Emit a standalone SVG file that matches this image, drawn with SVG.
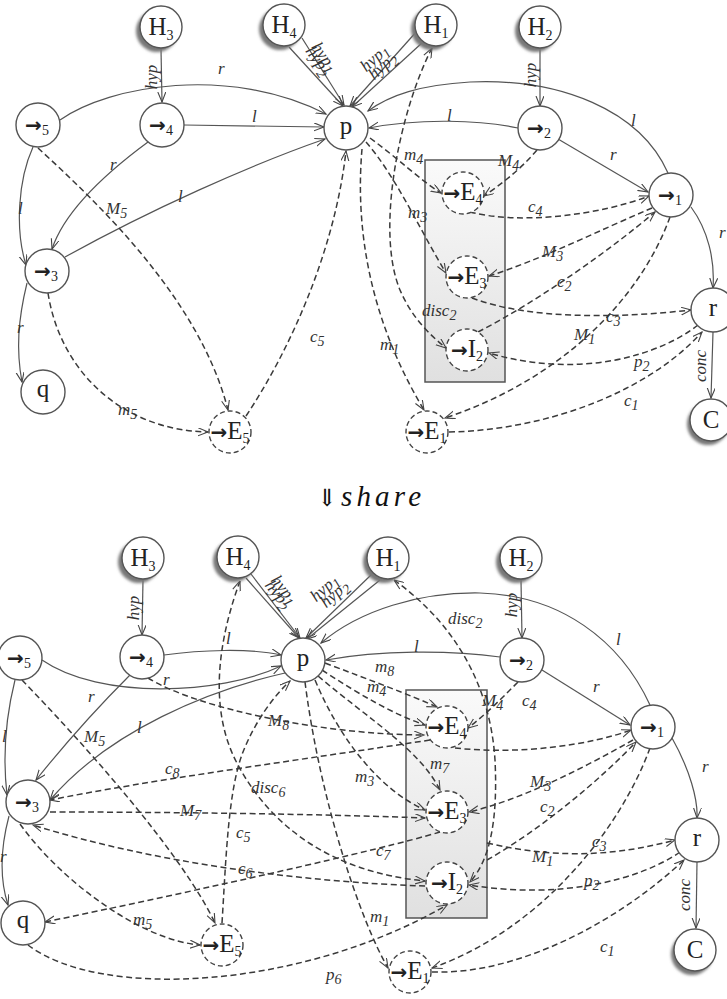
<svg xmlns="http://www.w3.org/2000/svg" width="727" height="999" viewBox="0 0 727 999">
  <style>
    .n { fill: #fff; stroke: #555; stroke-width: 1.4; }
    .d { fill: #fff; stroke: #444; stroke-width: 1.4; stroke-dasharray: 5 3; }
    .e { fill: none; stroke: #555; stroke-width: 1.2; marker-end: url(#a); }
    .de { fill: none; stroke: #3a3a3a; stroke-width: 1.5; stroke-dasharray: 6 3.5; marker-end: url(#a); }
    .both { marker-start: url(#as); }
    .sh { fill: #777; filter: url(#blur); }
    .lb { font-family: "Liberation Serif", "DejaVu Serif", serif; font-style: italic; font-size: 17px; fill: #333; }
    .nt { font-family: "Liberation Serif", "DejaVu Serif", serif; font-size: 25px; fill: #222; }
    .ar { font-family: "DejaVu Sans", sans-serif; font-weight: bold; font-size: 20px; fill: #222; }
    .sub { font-size: 14px; font-family: "Liberation Serif", "DejaVu Serif", serif; font-weight: normal; }
    .box { fill: url(#g); stroke: #555; stroke-width: 1.5; }
  </style>
  <defs>
    <marker id="a" markerUnits="userSpaceOnUse" markerWidth="12" markerHeight="10" refX="10" refY="4" orient="auto">
      <path d="M0,0 L10,4 L0,8" fill="none" stroke="#444" stroke-width="1.1"/>
    </marker>
    <marker id="as" markerUnits="userSpaceOnUse" markerWidth="12" markerHeight="10" refX="0" refY="4" orient="auto">
      <path d="M10,0 L0,4 L10,8" fill="none" stroke="#444" stroke-width="1.1"/>
    </marker>
    <filter id="blur" x="-30%" y="-30%" width="160%" height="160%">
      <feGaussianBlur stdDeviation="1.6"/>
    </filter>
    <linearGradient id="g" x1="0" y1="0" x2="0" y2="1">
      <stop offset="0" stop-color="#fafafa"/>
      <stop offset="1" stop-color="#e0e0e0"/>
    </linearGradient>
  </defs>

  <!-- ===== upper graph ===== -->
  <rect class="box" x="425" y="160" width="80" height="222"/>

  <g id="top-edges">
    <!-- solid -->
    <path class="e" d="M161,49 L162,102"/>
    <path class="e" d="M302,38 L344,105"/>
    <path class="e" d="M289,47 L343,106"/>
    <path class="e" d="M417,31 L350,106"/>
    <path class="e" d="M423,42 L352,107"/>
    <path class="e" d="M540,49 L540,106"/>
    <path class="e" d="M60,120 C110,85 230,65 326,114"/>
    <path class="e" d="M184,125 L324,127"/>
    <path class="e" d="M148,142 C110,170 65,210 52,249"/>
    <path class="e" d="M65,257 C150,210 250,165 325,139"/>
    <path class="e" d="M33,147 C18,180 15,230 26,265"/>
    <path class="e" d="M27,283 C18,320 16,350 22,382"/>
    <path class="e" d="M518,128 C480,120 420,118 369,128"/>
    <path class="e" d="M668,173 C640,110 560,78 470,82 C420,85 390,95 368,111"/>
    <path class="e" d="M691,207 C708,230 715,260 713,288"/>
    <path class="e" d="M558,139 L648,192"/>
    <path class="e" d="M713,332 L711,398"/>
    <!-- dashed -->
    <path class="de" d="M38,148 C100,205 200,300 228,410"/>
    <path class="de" d="M48,293 C60,370 120,430 208,432"/>
    <path class="de" d="M246,416 C290,350 335,250 346,151"/>
    <path class="de" d="M362,149 C355,230 370,320 424,410"/>
    <path class="de" d="M370,138 C400,160 420,180 441,193"/>
    <path class="de" d="M366,142 C395,175 420,230 446,273"/>
    <path class="de both" d="M432,48 C400,110 375,230 400,290 C412,318 430,335 446,348"/>
    <path class="de" d="M537,150 C520,170 500,185 484,196"/>
    <path class="de" d="M470,212 C520,225 600,215 649,196"/>
    <path class="de" d="M652,208 C600,230 540,260 489,276"/>
    <path class="de" d="M478,332 C540,300 610,250 655,212"/>
    <path class="de" d="M472,298 C530,320 620,318 691,310"/>
    <path class="de" d="M698,325 C660,355 580,380 489,353"/>
    <path class="de" d="M670,217 C640,300 560,380 445,418"/>
    <path class="de" d="M449,432 C550,430 650,390 702,332"/>
  </g>

  <g id="top-labels">
    <text class="lb" transform="translate(157,77) rotate(-90)" text-anchor="middle">hyp</text>
    <text class="lb" transform="translate(536,75) rotate(-90)" text-anchor="middle">hyp</text>
    <text class="lb" transform="translate(320,60) rotate(55)" text-anchor="middle">hyp<tspan class="sub" dy="4">1</tspan></text>
    <text class="lb" transform="translate(314,64) rotate(55)" text-anchor="middle">hyp<tspan class="sub" dy="4">2</tspan></text>
    <text class="lb" transform="translate(378,62) rotate(-42)" text-anchor="middle">hyp<tspan class="sub" dy="4">1</tspan></text>
    <text class="lb" transform="translate(386,70) rotate(-42)" text-anchor="middle">hyp<tspan class="sub" dy="4">2</tspan></text>
    <text class="lb" x="218" y="74">r</text>
    <text class="lb" x="252" y="122">l</text>
    <text class="lb" x="110" y="170">r</text>
    <text class="lb" x="178" y="202">l</text>
    <text class="lb" x="18" y="214">l</text>
    <text class="lb" x="17" y="333">r</text>
    <text class="lb" x="447" y="121">l</text>
    <text class="lb" x="631" y="126">l</text>
    <text class="lb" x="610" y="160">r</text>
    <text class="lb" x="719" y="238">r</text>
    <text class="lb" transform="translate(706,366) rotate(-90)" text-anchor="middle">conc</text>
    <text class="lb" x="106" y="214">M<tspan class="sub" dy="4">5</tspan></text>
    <text class="lb" x="118" y="415">m<tspan class="sub" dy="4">5</tspan></text>
    <text class="lb" x="310" y="342">c<tspan class="sub" dy="4">5</tspan></text>
    <text class="lb" x="380" y="350">m<tspan class="sub" dy="4">1</tspan></text>
    <text class="lb" x="404" y="160">m<tspan class="sub" dy="4">4</tspan></text>
    <text class="lb" x="408" y="218">m<tspan class="sub" dy="4">3</tspan></text>
    <text class="lb" x="422" y="316">disc<tspan class="sub" dy="4">2</tspan></text>
    <text class="lb" x="498" y="166">M<tspan class="sub" dy="4">4</tspan></text>
    <text class="lb" x="528" y="212">c<tspan class="sub" dy="4">4</tspan></text>
    <text class="lb" x="542" y="257">M<tspan class="sub" dy="4">3</tspan></text>
    <text class="lb" x="557" y="287">c<tspan class="sub" dy="4">2</tspan></text>
    <text class="lb" x="606" y="322">c<tspan class="sub" dy="4">3</tspan></text>
    <text class="lb" x="574" y="340">M<tspan class="sub" dy="4">1</tspan></text>
    <text class="lb" x="634" y="367">p<tspan class="sub" dy="4">2</tspan></text>
    <text class="lb" x="624" y="406">c<tspan class="sub" dy="4">1</tspan></text>
  </g>

  <g id="t-H3"><circle class="sh" cx="157" cy="31" r="21"/><circle class="n" cx="161" cy="27" r="21"/><text class="nt" x="161" y="35" text-anchor="middle">H<tspan class="sub" dy="5">3</tspan></text></g>
  <g id="t-H4"><circle class="sh" cx="280" cy="29" r="21"/><circle class="n" cx="284" cy="25" r="21"/><text class="nt" x="284" y="33" text-anchor="middle">H<tspan class="sub" dy="5">4</tspan></text></g>
  <g id="t-H1"><circle class="sh" cx="432" cy="29" r="21"/><circle class="n" cx="436" cy="25" r="21"/><text class="nt" x="436" y="33" text-anchor="middle">H<tspan class="sub" dy="5">1</tspan></text></g>
  <g id="t-H2"><circle class="sh" cx="536" cy="31" r="21"/><circle class="n" cx="540" cy="27" r="21"/><text class="nt" x="540" y="35" text-anchor="middle">H<tspan class="sub" dy="5">2</tspan></text></g>
  <g id="t-s5"><circle class="n" cx="38" cy="125" r="22"/><text class="ar" x="37" y="132" text-anchor="middle">→<tspan class="sub" dy="3">5</tspan></text></g>
  <g id="t-s4"><circle class="n" cx="162" cy="125" r="22"/><text class="ar" x="161" y="132" text-anchor="middle">→<tspan class="sub" dy="3">4</tspan></text></g>
  <g id="t-p"><circle class="n" cx="346" cy="128" r="22"/><text class="nt" x="346" y="134" text-anchor="middle">p</text></g>
  <g id="t-s2"><circle class="n" cx="540" cy="128" r="22"/><text class="ar" x="539" y="135" text-anchor="middle">→<tspan class="sub" dy="3">2</tspan></text></g>
  <g id="t-s1"><circle class="n" cx="671" cy="195" r="22"/><text class="ar" x="670" y="202" text-anchor="middle">→<tspan class="sub" dy="3">1</tspan></text></g>
  <g id="t-s3"><circle class="n" cx="47" cy="271" r="22"/><text class="ar" x="46" y="278" text-anchor="middle">→<tspan class="sub" dy="3">3</tspan></text></g>
  <g id="t-q"><circle class="n" cx="43" cy="392" r="22"/><text class="nt" x="43" y="397" text-anchor="middle">q</text></g>
  <g id="t-E5"><circle class="d" cx="230" cy="432" r="21"/><text class="nt" x="230" y="439" text-anchor="middle" font-size="20"><tspan class="ar" font-size="16">→</tspan>E<tspan class="sub" dy="4">5</tspan></text></g>
  <g id="t-E1"><circle class="d" cx="427" cy="432" r="21"/><text class="nt" x="427" y="439" text-anchor="middle" font-size="20"><tspan class="ar" font-size="16">→</tspan>E<tspan class="sub" dy="4">1</tspan></text></g>
  <g id="t-E4"><circle class="d" cx="463" cy="193" r="21"/><text class="nt" x="463" y="200" text-anchor="middle" font-size="20"><tspan class="ar" font-size="16">→</tspan>E<tspan class="sub" dy="4">4</tspan></text></g>
  <g id="t-E3"><circle class="d" cx="467" cy="277" r="21"/><text class="nt" x="467" y="284" text-anchor="middle" font-size="20"><tspan class="ar" font-size="16">→</tspan>E<tspan class="sub" dy="4">3</tspan></text></g>
  <g id="t-I2"><circle class="d" cx="467" cy="350" r="21"/><text class="nt" x="467" y="357" text-anchor="middle" font-size="20"><tspan class="ar" font-size="16">→</tspan>I<tspan class="sub" dy="4">2</tspan></text></g>
  <g id="t-r"><circle class="n" cx="713" cy="310" r="22"/><text class="nt" x="713" y="316" text-anchor="middle">r</text></g>
  <g id="t-C"><circle class="sh" cx="708" cy="424" r="21"/><circle class="n" cx="711" cy="420" r="21"/><text class="nt" x="711" y="428" text-anchor="middle">C</text></g>

  <!-- separator -->
  <g id="share">
    <text x="327" y="506" text-anchor="middle" font-family="DejaVu Serif, serif" font-size="24" fill="#111">⇓</text>
    <text x="341" y="506" font-family="Liberation Serif, DejaVu Serif, serif" font-style="italic" font-size="29" fill="#111" textLength="80" lengthAdjust="spacing">share</text>
  </g>

  <!-- ===== lower graph ===== -->
  <rect class="box" x="406" y="690" width="81" height="228"/>

  <g id="bottom-edges">
    <path class="e" d="M143,580 L142,635"/>
    <path class="e" d="M251,574 L300,638"/>
    <path class="e" d="M246,578 L299,638"/>
    <path class="e" d="M372,574 L306,638"/>
    <path class="e" d="M380,580 L307,639"/>
    <path class="e" d="M521,580 L522,638"/>
    <path class="e" d="M42,660 C100,700 220,695 281,666"/>
    <path class="e" d="M164,655 C200,650 250,648 281,655"/>
    <path class="e" d="M130,675 C95,710 60,750 36,780"/>
    <path class="e" d="M285,673 C210,690 110,730 50,800"/>
    <path class="e" d="M15,680 C5,720 3,760 7,795"/>
    <path class="e" d="M9,816 C0,850 0,880 8,905"/>
    <path class="e" d="M500,657 C450,650 380,650 326,660"/>
    <path class="e" d="M650,705 C620,640 560,595 480,593 C420,592 360,610 321,643"/>
    <path class="e" d="M542,670 L630,725"/>
    <path class="e" d="M672,738 C690,770 698,800 697,818"/>
    <path class="e" d="M697,862 L696,928"/>

    <path class="de" d="M22,680 C80,740 180,850 215,923"/>
    <path class="de" d="M20,824 C60,880 140,940 200,945"/>
    <path class="de" d="M222,923 C226,860 228,790 243,752 C255,722 272,698 290,681"/>
    <path class="de both" d="M240,581 C222,630 205,705 238,765 C270,825 330,872 425,881"/>
    <path class="de" d="M148,678 C200,710 330,735 424,735"/>
    <path class="de" d="M325,663 C370,680 410,695 437,707"/>
    <path class="de" d="M322,670 C360,695 395,715 425,725"/>
    <path class="de" d="M315,680 C340,740 380,790 425,810"/>
    <path class="de" d="M318,676 C370,720 420,750 440,790"/>
    <path class="de" d="M305,682 C320,800 360,920 388,968"/>
    <path class="de" d="M430,740 C300,760 150,780 50,800"/>
    <path class="de" d="M50,812 C200,812 350,815 425,818"/>
    <path class="de" d="M425,886 C300,882 150,862 33,825"/>
    <path class="de" d="M440,832 C380,850 200,890 45,922"/>
    <path class="de" d="M28,945 C100,1000 300,990 447,905"/>
    <path class="de both" d="M394,580 C450,620 490,680 495,760 C498,820 490,860 470,882"/>
    <path class="de" d="M518,682 C500,700 485,715 468,728"/>
    <path class="de" d="M455,748 C520,755 590,745 631,730"/>
    <path class="de" d="M633,740 C580,770 520,800 469,812"/>
    <path class="de" d="M487,860 C540,830 600,780 636,742"/>
    <path class="de" d="M487,843 C560,860 620,855 675,840"/>
    <path class="de" d="M680,852 C640,880 560,900 469,885"/>
    <path class="de" d="M650,748 C620,830 540,930 432,968"/>
    <path class="de" d="M432,972 C520,975 620,920 684,860"/>
  </g>

  <g id="bottom-labels">
    <text class="lb" transform="translate(139,608) rotate(-90)" text-anchor="middle">hyp</text>
    <text class="lb" transform="translate(517,605) rotate(-90)" text-anchor="middle">hyp</text>
    <text class="lb" transform="translate(280,593) rotate(52)" text-anchor="middle">hyp<tspan class="sub" dy="4">1</tspan></text>
    <text class="lb" transform="translate(274,598) rotate(52)" text-anchor="middle">hyp<tspan class="sub" dy="4">2</tspan></text>
    <text class="lb" transform="translate(328,592) rotate(-42)" text-anchor="middle">hyp<tspan class="sub" dy="4">1</tspan></text>
    <text class="lb" transform="translate(338,598) rotate(-42)" text-anchor="middle">hyp<tspan class="sub" dy="4">2</tspan></text>
    <text class="lb" x="226" y="644">l</text>
    <text class="lb" x="163" y="685">r</text>
    <text class="lb" x="88" y="702">r</text>
    <text class="lb" x="137" y="733">l</text>
    <text class="lb" x="2" y="742">l</text>
    <text class="lb" x="0" y="862">r</text>
    <text class="lb" x="414" y="652">l</text>
    <text class="lb" x="616" y="645">l</text>
    <text class="lb" x="593" y="692">r</text>
    <text class="lb" x="702" y="772">r</text>
    <text class="lb" transform="translate(690,895) rotate(-90)" text-anchor="middle">conc</text>
    <text class="lb" x="84" y="742">M<tspan class="sub" dy="4">5</tspan></text>
    <text class="lb" x="133" y="925">m<tspan class="sub" dy="4">5</tspan></text>
    <text class="lb" x="236" y="838">c<tspan class="sub" dy="4">5</tspan></text>
    <text class="lb" x="238" y="874">c<tspan class="sub" dy="4">6</tspan></text>
    <text class="lb" x="165" y="774">c<tspan class="sub" dy="4">8</tspan></text>
    <text class="lb" x="180" y="816">M<tspan class="sub" dy="4">7</tspan></text>
    <text class="lb" x="251" y="793">disc<tspan class="sub" dy="4">6</tspan></text>
    <text class="lb" x="268" y="726">M<tspan class="sub" dy="4">8</tspan></text>
    <text class="lb" x="375" y="672">m<tspan class="sub" dy="4">8</tspan></text>
    <text class="lb" x="367" y="692">m<tspan class="sub" dy="4">4</tspan></text>
    <text class="lb" x="355" y="782">m<tspan class="sub" dy="4">3</tspan></text>
    <text class="lb" x="430" y="769">m<tspan class="sub" dy="4">7</tspan></text>
    <text class="lb" x="376" y="856">c<tspan class="sub" dy="4">7</tspan></text>
    <text class="lb" x="370" y="922">m<tspan class="sub" dy="4">1</tspan></text>
    <text class="lb" x="326" y="980">p<tspan class="sub" dy="4">6</tspan></text>
    <text class="lb" x="448" y="624">disc<tspan class="sub" dy="4">2</tspan></text>
    <text class="lb" x="482" y="706">M<tspan class="sub" dy="4">4</tspan></text>
    <text class="lb" x="522" y="706">c<tspan class="sub" dy="4">4</tspan></text>
    <text class="lb" x="530" y="787">M<tspan class="sub" dy="4">3</tspan></text>
    <text class="lb" x="540" y="812">c<tspan class="sub" dy="4">2</tspan></text>
    <text class="lb" x="592" y="847">c<tspan class="sub" dy="4">3</tspan></text>
    <text class="lb" x="532" y="862">M<tspan class="sub" dy="4">1</tspan></text>
    <text class="lb" x="584" y="886">p<tspan class="sub" dy="4">2</tspan></text>
    <text class="lb" x="600" y="952">c<tspan class="sub" dy="4">1</tspan></text>
  </g>

  <g id="b-H3"><circle class="sh" cx="139" cy="562" r="21"/><circle class="n" cx="143" cy="558" r="21"/><text class="nt" x="143" y="566" text-anchor="middle">H<tspan class="sub" dy="5">3</tspan></text></g>
  <g id="b-H4"><circle class="sh" cx="234" cy="561" r="21"/><circle class="n" cx="238" cy="557" r="21"/><text class="nt" x="238" y="565" text-anchor="middle">H<tspan class="sub" dy="5">4</tspan></text></g>
  <g id="b-H1"><circle class="sh" cx="384" cy="562" r="21"/><circle class="n" cx="388" cy="558" r="21"/><text class="nt" x="388" y="566" text-anchor="middle">H<tspan class="sub" dy="5">1</tspan></text></g>
  <g id="b-H2"><circle class="sh" cx="517" cy="562" r="21"/><circle class="n" cx="521" cy="558" r="21"/><text class="nt" x="521" y="566" text-anchor="middle">H<tspan class="sub" dy="5">2</tspan></text></g>
  <g id="b-s5"><circle class="n" cx="20" cy="658" r="22"/><text class="ar" x="19" y="665" text-anchor="middle">→<tspan class="sub" dy="3">5</tspan></text></g>
  <g id="b-s4"><circle class="n" cx="142" cy="657" r="22"/><text class="ar" x="141" y="664" text-anchor="middle">→<tspan class="sub" dy="3">4</tspan></text></g>
  <g id="b-p"><circle class="n" cx="303" cy="660" r="22"/><text class="nt" x="303" y="666" text-anchor="middle">p</text></g>
  <g id="b-s2"><circle class="n" cx="522" cy="660" r="22"/><text class="ar" x="521" y="667" text-anchor="middle">→<tspan class="sub" dy="3">2</tspan></text></g>
  <g id="b-s1"><circle class="n" cx="653" cy="727" r="22"/><text class="ar" x="652" y="734" text-anchor="middle">→<tspan class="sub" dy="3">1</tspan></text></g>
  <g id="b-s3"><circle class="n" cx="28" cy="802" r="22"/><text class="ar" x="27" y="809" text-anchor="middle">→<tspan class="sub" dy="3">3</tspan></text></g>
  <g id="b-q"><circle class="n" cx="23" cy="923" r="22"/><text class="nt" x="23" y="928" text-anchor="middle">q</text></g>
  <g id="b-E5"><circle class="d" cx="222" cy="945" r="21"/><text class="nt" x="222" y="952" text-anchor="middle" font-size="20"><tspan class="ar" font-size="16">→</tspan>E<tspan class="sub" dy="4">5</tspan></text></g>
  <g id="b-E1"><circle class="d" cx="410" cy="972" r="21"/><text class="nt" x="410" y="979" text-anchor="middle" font-size="20"><tspan class="ar" font-size="16">→</tspan>E<tspan class="sub" dy="4">1</tspan></text></g>
  <g id="b-E4"><circle class="d" cx="447" cy="727" r="21"/><text class="nt" x="447" y="734" text-anchor="middle" font-size="20"><tspan class="ar" font-size="16">→</tspan>E<tspan class="sub" dy="4">4</tspan></text></g>
  <g id="b-E3"><circle class="d" cx="447" cy="812" r="21"/><text class="nt" x="447" y="819" text-anchor="middle" font-size="20"><tspan class="ar" font-size="16">→</tspan>E<tspan class="sub" dy="4">3</tspan></text></g>
  <g id="b-I2"><circle class="d" cx="447" cy="883" r="21"/><text class="nt" x="447" y="890" text-anchor="middle" font-size="20"><tspan class="ar" font-size="16">→</tspan>I<tspan class="sub" dy="4">2</tspan></text></g>
  <g id="b-r"><circle class="n" cx="697" cy="840" r="22"/><text class="nt" x="697" y="846" text-anchor="middle">r</text></g>
  <g id="b-C"><circle class="sh" cx="692" cy="954" r="21"/><circle class="n" cx="695" cy="950" r="21"/><text class="nt" x="695" y="958" text-anchor="middle">C</text></g>
</svg>
